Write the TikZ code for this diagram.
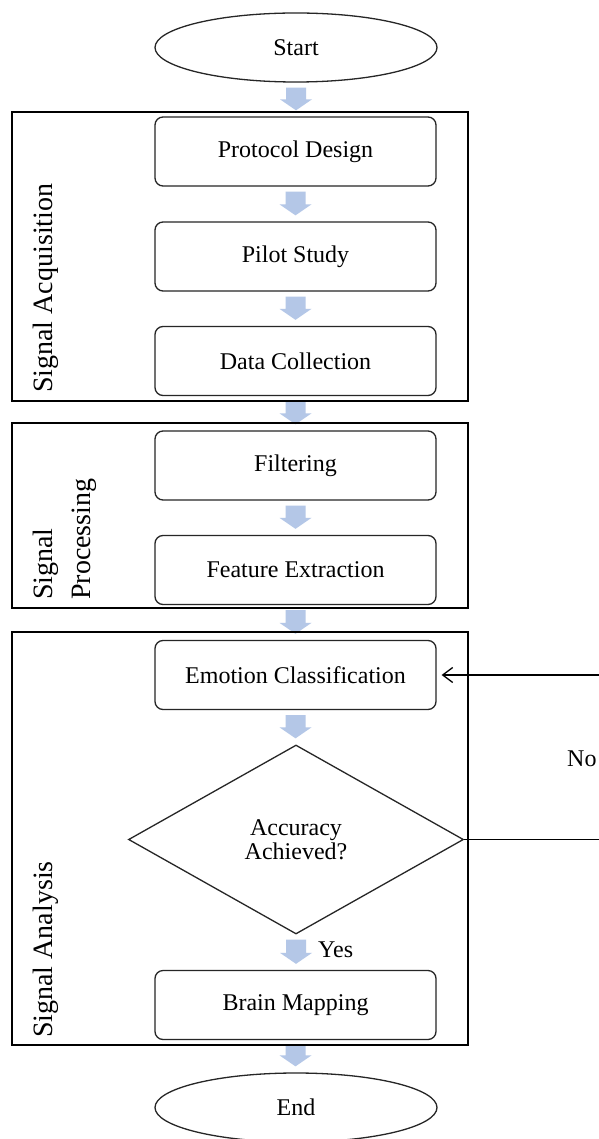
\documentclass[tikz,border=0pt]{standalone}
\usepackage{fontspec}
\setmainfont{Liberation Serif}
\usetikzlibrary{shapes.geometric,arrows.meta,calc}
\definecolor{arrowblue}{RGB}{180,199,231}
\newcommand\blockarr[2]{%
  \path (#1.south) ++(0,5) coordinate (ba1);
  \path (#2.north) ++(0,-6) coordinate (ba2);
  \fill[arrowblue] let \p1=(ba1), \p2=(ba2) in
    (\x1-10pt,\y1) -- (\x1+10pt,\y1) -- (\x1+10pt,\y2+11pt) -- (\x1+16pt,\y2+11pt)
    -- (\x1,\y2) -- (\x1-16pt,\y2+11pt) -- (\x1-10pt,\y2+11pt) -- cycle;}
\begin{document}
\begin{tikzpicture}[x=1pt,y=-1pt,
  box/.style={draw=black!85, line width=1.3pt, rounded corners=8pt, minimum width=281pt,
    minimum height=69pt, inner sep=0pt, font=\fontsize{24}{26}\selectfont},
  term/.style={draw=black!85, line width=1.3pt, ellipse, minimum width=282pt,
    minimum height=69pt, inner sep=0pt, font=\fontsize{24}{26}\selectfont},
  dec/.style={draw=black!85, diamond, line width=1.3pt, minimum width=335pt,
    minimum height=189pt, inner sep=0pt, align=center, font=\fontsize{24}{24}\selectfont},
  frame/.style={draw, line width=1.3pt},
  lbl/.style={rotate=90, anchor=base west, inner sep=0pt, font=\fontsize{28}{30}\selectfont},
  small/.style={anchor=base west, inner sep=0pt, font=\fontsize{24}{26}\selectfont},
  fb/.style={draw, line width=1.3pt}]
\useasboundingbox (0,0) rectangle (598,1139);
\fill[white] (0,0) rectangle (598,1139);

% nodes
\node[term] (start) at (296,47.5) {Start};
\node[box] (pd) at (295.5,151.5) {Protocol Design};
\node[box] (ps) at (295.5,256.5) {Pilot Study};
\node[box] (dc) at (295.5,361) {Data Collection};
\node[box] (fi) at (295.5,465.5) {Filtering};
\node[box] (fe) at (295.5,570) {Feature Extraction};
\node[box] (emo) at (295.5,675) {Emotion Classification};
\node[dec] (dia) at (296,839.5) {Accuracy\\Achieved?};
\node[box] (bm) at (295.5,1005) {Brain Mapping};
\node[term] (end) at (296,1107.5) {End};

% block arrows
\blockarr{start}{pd}
\blockarr{pd}{ps}
\blockarr{ps}{dc}
\blockarr{dc}{fi}
\blockarr{fi}{fe}
\blockarr{fe}{emo}
\blockarr{emo}{dia}
\blockarr{dia}{bm}
\blockarr{bm}{end}

% group frames
\draw[frame] (12,112) rectangle (468,401);
\draw[frame] (12,423) rectangle (468,608);
\draw[frame] (12,632) rectangle (468,1045);

% group labels
\node[lbl] (la) at (52,393) {Signal Acquisition};
\node[lbl] (lp1) at (52,600) {Signal};
\node[lbl] (lp2) at (90.5,600) {Processing};
\node[lbl] (lan) at (52,1038) {Signal Analysis};

% feedback loop
\coordinate (fbx) at (625,0);
\draw[fb, shorten >=5pt, -{Straight Barb[length=10pt,width=15pt]}]
  (dia.east) -- (dia.east -| fbx) |- (emo.east);
\node[small] (no) at (567,766) {No};
\node[small] (yes) at (318,957) {Yes};
\end{tikzpicture}
\end{document}
